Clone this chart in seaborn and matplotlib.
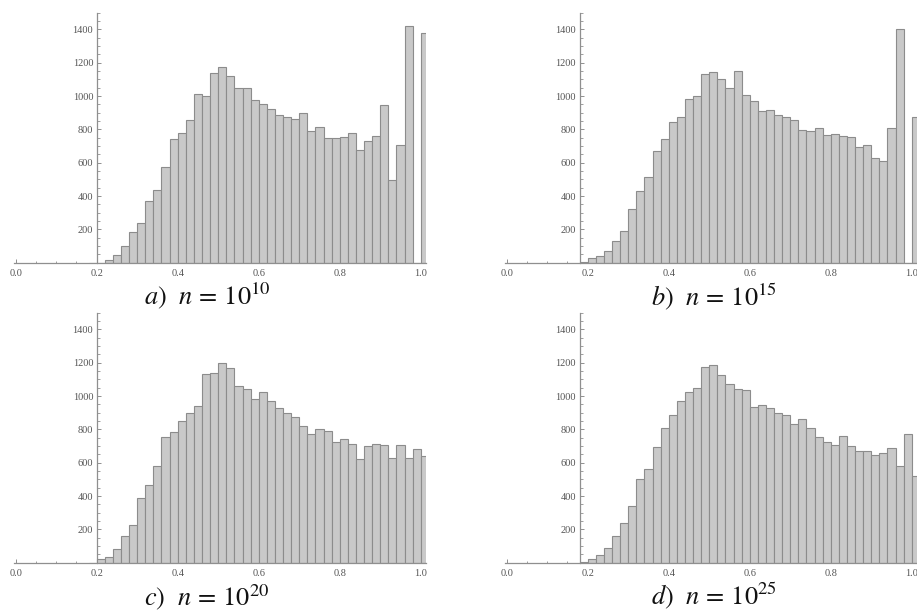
import numpy as np
import matplotlib
matplotlib.use("Agg")
import matplotlib.pyplot as plt
import seaborn as sns
from matplotlib.ticker import MultipleLocator, FixedLocator

# Bin left edges (width 0.02) from 0.18 to 1.00
bin_starts = [round(0.18 + 0.02 * i, 2) for i in range(42)]

counts_a = [0, 0, 16, 44, 98, 182, 240, 368, 434, 574, 742, 776, 854, 1010, 1000,
            1136, 1172, 1118, 1048, 1048, 976, 950, 922, 884, 872, 862, 896, 790,
            812, 748, 748, 752, 776, 676, 728, 762, 944, 494, 704, 1418, 0, 1378]
counts_b = [6, 26, 38, 70, 130, 190, 322, 428, 514, 672, 742, 844, 874, 982, 1002,
            1132, 1142, 1104, 1048, 1150, 1004, 970, 910, 918, 886, 872, 856, 794,
            790, 810, 766, 770, 758, 752, 694, 704, 628, 608, 808, 1400, 0, 872]
counts_c = [0, 22, 34, 80, 160, 226, 388, 464, 580, 754, 784, 850, 898, 940, 1132,
            1138, 1198, 1170, 1060, 1042, 982, 1026, 970, 930, 896, 872, 820, 770,
            800, 790, 724, 740, 714, 622, 700, 714, 706, 628, 704, 628, 682, 638]
counts_d = [4, 22, 46, 86, 158, 240, 342, 500, 560, 692, 808, 886, 970, 1022, 1048,
            1176, 1184, 1128, 1072, 1040, 1036, 934, 948, 928, 896, 886, 830, 862,
            810, 756, 724, 704, 760, 700, 670, 672, 644, 658, 688, 582, 770, 520]

captions = [r"$\mathit{a)}\ \ n\, =\, 10^{10}$", r"$\mathit{b)}\ \ n\, =\, 10^{15}$",
            r"$\mathit{c)}\ \ n\, =\, 10^{20}$", r"$\mathit{d)}\ \ n\, =\, 10^{25}$"]
yaxis_at = [0.2, 0.18, 0.2, 0.18]
x_ticks = [0.0, 0.2, 0.4, 0.6, 0.8, 1.0]
x_ticklabels = ["0.0", "0.2", "0.4", "0.6", "0.8", "1.0"]
y_ticks = [200, 400, 600, 800, 1000, 1200, 1400]

sns.set_theme(style="white")
plt.rcParams["font.family"] = ["Liberation Serif", "DejaVu Serif"]
plt.rcParams["mathtext.fontset"] = "stix"

W, H = 917, 610
fig = plt.figure(figsize=(W / 100, H / 100), dpi=100)

edges = [round(0.18 + 0.02 * i, 2) for i in range(43)]
centers = [s + 0.01 for s in bin_starts]

# pixel layout: (x of data 0, y pixel of data 0 from top)
layout = [(15.7, 262.7), (506.7, 262.7), (15.7, 562.7), (506.7, 562.7)]
cap_pos = [(207, 304), (714, 305), (207, 605), (714, 604)]
px_per_unit = 405.0
xmin, xmax = -0.003, 1.013
ax_h_px = 250.0

axis_col = "#8f8f8f"
label_col = "#555555"

for i, counts in enumerate([counts_a, counts_b, counts_c, counts_d]):
    x0, y0 = layout[i]
    left = (x0 + xmin * px_per_unit) / W
    width = (xmax - xmin) * px_per_unit / W
    bottom = (H - y0) / H
    ax = fig.add_axes([left, bottom, width, ax_h_px / H])
    sns.histplot(x=centers, weights=counts, bins=edges, ax=ax,
                 color="#c9c9c9", edgecolor="#8c8c8c", linewidth=0.8,
                 alpha=1.0, element="bars", fill=True)
    ax.set_xlim(xmin, xmax)
    ax.set_ylim(0, 1500)
    ax.set_xlabel("")
    ax.set_ylabel("")
    ax.set_facecolor("none")
    for s in ["top", "right"]:
        ax.spines[s].set_visible(False)
    ax.spines["left"].set_position(("data", yaxis_at[i]))
    ax.spines["left"].set_color(axis_col)
    ax.spines["bottom"].set_color(axis_col)
    ax.spines["left"].set_linewidth(0.9)
    ax.spines["bottom"].set_linewidth(0.9)
    ax.spines["left"].set_zorder(0.5)

    ax.xaxis.set_major_locator(FixedLocator(x_ticks))
    ax.set_xticklabels(x_ticklabels)
    ax.xaxis.set_minor_locator(MultipleLocator(0.05))
    ax.yaxis.set_major_locator(FixedLocator(y_ticks))
    ax.yaxis.set_minor_locator(MultipleLocator(50))
    ax.tick_params(axis="both", which="major", direction="in", length=3.2,
                   width=0.7, color=axis_col, labelsize=7.5, labelcolor=label_col)
    ax.tick_params(axis="both", which="minor", direction="in", length=1.8,
                   width=0.6, color=axis_col)
    ax.tick_params(axis="x", which="major", pad=4.5)
    ax.tick_params(axis="y", which="major", pad=2.5)
    ax.tick_params(left=True, bottom=True, which="both")

    cx, cy = cap_pos[i]
    fig.text(cx / W, (H - cy) / H, captions[i], ha="center", va="baseline",
             fontsize=19, color="#111111")

fig.savefig("out.png", dpi=100, facecolor="white")
